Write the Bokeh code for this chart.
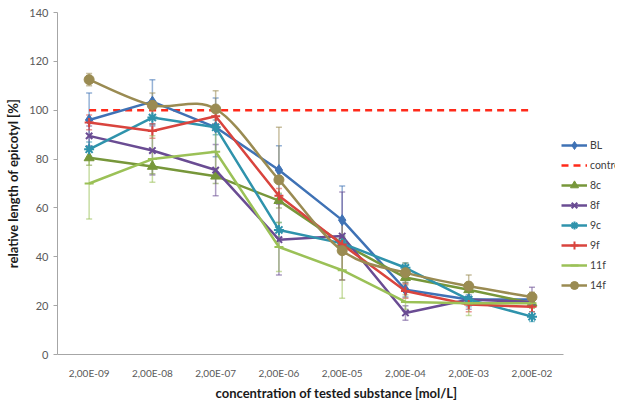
from bokeh.plotting import figure
from bokeh.models import (Range1d, FixedTicker, ColumnDataSource, Whisker, TeeHead,
                          Legend, LegendItem)
from bokeh.embed import file_html
from bokeh.resources import INLINE

# ---------------- data ----------------
concentrations = ["2,00E-09", "2,00E-08", "2,00E-07", "2,00E-06",
                  "2,00E-05", "2,00E-04", "2,00E-03", "2,00E-02"]
y_ticks = [0, 20, 40, 60, 80, 100, 120, 140]

BL = [96, 103.5, 93, 75.5, 55, 26.5, 22.5, 22.5]
control = [100, 100, 100, 100, 100, 100, 100, 100]
s8c = [80.5, 77, 73, 63, 45.5, 31.5, 26.5, 21]
s8f = [89.5, 83.5, 75.5, 47, 48.5, 17, 22.5, 21.5]
s9c = [84, 97, 93, 51, 45.5, 35.5, 22.5, 15.5]
s9f = [95, 91.5, 97.5, 65, 45, 26, 20.5, 19.5]
s11f = [70, 80, 83, 44, 34.5, 21.5, 21, 21]
s14f = [112.5, 102, 100.5, 71.5, 42.5, 33.5, 28, 23.5]

BL_err = [11, 9, 12, 10, 14, 3, 2, 2]
s8c_err = [3, 3, 3, 3, 3, 3, 3, 2]
s8f_err = [4, 10, 10.5, 14.5, 18, 3, 4, 6]
s9c_err = [3, 3, 3, 3, 3, 2, 3, 2]
s9f_err = [3, 3, 3, 3, 3, 3, 3, 2]
s11f_err = [14.5, 9.5, 10, 10, 11.5, 3, 5, 2]
s14f_err = [2.5, 5, 7.5, 21.5, 12, 4, 4.5, 2]

FONT = "Lato"
xs = list(range(len(concentrations)))
x_start, x_last = -0.5, len(xs) - 0.5
x_end = x_start + 8.82   # extra room on the right for the legend

p = figure(width=615, height=405, output_backend="svg", toolbar_location=None,
           x_range=Range1d(x_start, x_end), y_range=Range1d(0, 140),
           min_border_left=57, min_border_right=0, min_border_top=12,
           min_border_bottom=51)
p.outline_line_color = None
p.grid.visible = False
p.background_fill_color = "white"

# axes
p.xaxis.ticker = FixedTicker(ticks=xs)
p.xaxis.bounds = (x_start, x_last)
p.xaxis.major_label_overrides = {i: c for i, c in enumerate(concentrations)}
p.yaxis.ticker = FixedTicker(ticks=y_ticks)
for ax in (p.xaxis[0], p.yaxis[0]):
    ax.axis_line_color = "#A6A6A6"
    ax.major_tick_line_color = "#A6A6A6"
    ax.minor_tick_line_color = None
    ax.major_label_text_font = FONT
    ax.major_label_text_color = "#595959"
    ax.axis_label_text_font = FONT
    ax.axis_label_text_font_style = "bold"
    ax.axis_label_text_color = "#1a1a1a"
    ax.axis_label_text_font_size = "13px"
p.xaxis.major_tick_line_color = None
p.xaxis.major_tick_in = 0
p.xaxis.major_tick_out = 0
p.xaxis.major_label_text_font_size = "10px"
p.xaxis.major_label_standoff = 12
p.xaxis.axis_label = "concentration of tested substance [mol/L]"
p.xaxis.axis_label_standoff = 3
p.yaxis.major_tick_in = 0
p.yaxis.major_tick_out = 4
p.yaxis.major_label_text_font_size = "11px"
p.yaxis.major_label_standoff = 5
p.yaxis.axis_label = "relative length of epicotyl [%]"
p.yaxis.axis_label_standoff = 5

series = [
    ("BL", BL, BL_err, "#3F72B5", "diamond", 11),
    ("8c", s8c, s8c_err, "#77973A", "triangle", 10),
    ("8f", s8f, s8f_err, "#6A4C93", "x", 9),
    ("9c", s9c, s9c_err, "#2F93AC", "asterisk", 10),
    ("9f", s9f, s9f_err, "#D9443E", "cross", 9),
    ("11f", s11f, s11f_err, "#9BC157", "dash", 9),
    ("14f", s14f, s14f_err, "#9A8B52", "circle", 10),
]
smoothed = {"14f"}

items = {}

# error bars first (behind lines)
for name, vals, errs, color, marker, size in series:
    src = ColumnDataSource(dict(x=xs,
                                lower=[v - e for v, e in zip(vals, errs)],
                                upper=[v + e for v, e in zip(vals, errs)]))
    head = dict(size=6, line_color=color, line_alpha=0.55, line_width=1.5)
    w = Whisker(base="x", lower="lower", upper="upper", source=src,
                line_color=color, line_alpha=0.55, line_width=1.5,
                upper_head=TeeHead(**head), lower_head=TeeHead(**head))
    p.add_layout(w)

# control line
ctrl = p.line(xs, control, line_color="#FF2A1A", line_width=2.5, line_dash="7 5")

for name, vals, errs, color, marker, size in series:
    if name in smoothed:
        n = len(vals)

        def P(i):
            i = max(0, min(n - 1, i))
            return xs[i], vals[i]
        x0, y0, x1, y1, cx0, cy0, cx1, cy1 = [], [], [], [], [], [], [], []
        for i in range(n - 1):
            pa, pb = P(i - 1), P(i)
            pc, pd = P(i + 1), P(i + 2)
            x0.append(pb[0]); y0.append(pb[1])
            x1.append(pc[0]); y1.append(pc[1])
            cx0.append(pb[0] + (pc[0] - pa[0]) / 6.0)
            cy0.append(pb[1] + (pc[1] - pa[1]) / 6.0)
            cx1.append(pc[0] - (pd[0] - pb[0]) / 6.0)
            cy1.append(pc[1] - (pd[1] - pb[1]) / 6.0)
        lr = p.bezier(x0=x0, y0=y0, x1=x1, y1=y1, cx0=cx0, cy0=cy0, cx1=cx1, cy1=cy1,
                      line_color=color, line_width=2.5)
    else:
        lr = p.line(xs, vals, line_color=color, line_width=2.5)
    lw = 2 if marker in ("x", "asterisk", "cross", "dash") else 1
    sr = p.scatter(xs, vals, marker=marker, size=size, fill_color=color,
                   line_color=color, line_width=lw)
    items[name] = [lr, sr]

order = ["BL", "control", "8c", "8f", "9c", "9f", "11f", "14f"]
legend_items = []
for name in order:
    if name == "control":
        legend_items.append(LegendItem(label="control", renderers=[ctrl]))
    else:
        legend_items.append(LegendItem(label=name, renderers=items[name]))

legend = Legend(items=legend_items, location=(504, 59), orientation="vertical",
                glyph_width=26, glyph_height=20, label_height=20, spacing=0,
                padding=0, margin=0, label_standoff=3,
                label_text_font=FONT, label_text_font_size="10.5px",
                label_text_color="#404040",
                background_fill_alpha=0, border_line_alpha=0)
p.add_layout(legend)

open("out.html", "w").write(file_html(p, INLINE))
